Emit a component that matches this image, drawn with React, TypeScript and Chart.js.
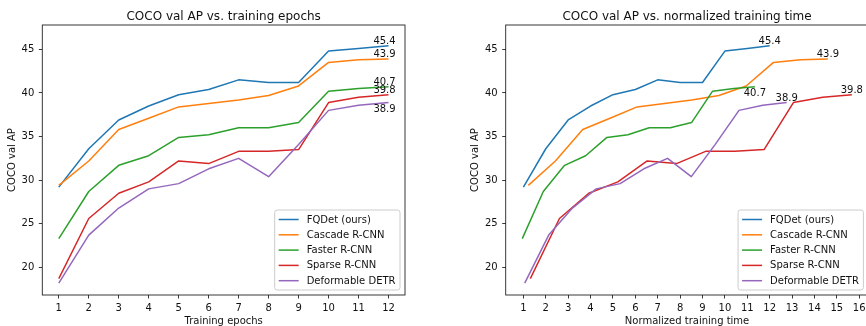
import React, { useEffect, useRef } from 'react';
import { Chart, registerables } from 'chart.js';

Chart.register(...registerables);

// ---------------- data ----------------
const SERIES_NAMES = ['FQDet (ours)', 'Cascade R-CNN', 'Faster R-CNN', 'Sparse R-CNN', 'Deformable DETR'];
const COLORS = ['#1f77b4', '#ff7f0e', '#2ca02c', '#d62728', '#9467bd'];

const EPOCHS = [1, 2, 3, 4, 5, 6, 7, 8, 9, 10, 11, 12];

const FQDET_AP = [29.2, 33.6, 36.9, 38.5, 39.8, 40.4, 41.5, 41.2, 41.2, 44.8, 45.1, 45.4];
const CASCADE_AP = [29.4, 32.2, 35.8, 37.1, 38.4, 38.8, 39.2, 39.7, 40.8, 43.5, 43.8, 43.9];
const FASTER_AP = [23.3, 28.7, 31.7, 32.8, 34.9, 35.2, 36.0, 36.0, 36.6, 40.2, 40.5, 40.7];
const SPARSE_AP = [18.7, 25.6, 28.5, 29.8, 32.2, 31.9, 33.3, 33.3, 33.5, 38.9, 39.5, 39.8];
const DDETR_AP = [18.2, 23.7, 26.8, 29.0, 29.6, 31.3, 32.5, 30.4, 34.1, 38.0, 38.6, 38.9];

// normalized training time (x positions in the right panel)
const FQDET_TIME = [1, 2, 3, 4, 5, 6, 7, 8, 9, 10, 11, 12];
const CASCADE_TIME = [1.22, 2.43, 3.65, 4.87, 6.08, 7.3, 8.52, 9.73, 10.95, 12.17, 13.38, 14.6];
const FASTER_TIME = [0.95, 1.89, 2.84, 3.78, 4.73, 5.67, 6.62, 7.56, 8.51, 9.45, 10.4, 11.34];
const SPARSE_TIME = [1.31, 2.61, 3.92, 5.22, 6.53, 7.84, 9.14, 10.45, 11.75, 13.06, 14.37, 15.67];
const DDETR_TIME = [1.06, 2.13, 3.19, 4.25, 5.32, 6.38, 7.44, 8.5, 9.57, 10.63, 11.69, 12.76];

const AP_SERIES = [FQDET_AP, CASCADE_AP, FASTER_AP, SPARSE_AP, DDETR_AP];
const EPOCH_SERIES = [EPOCHS, EPOCHS, EPOCHS, EPOCHS, EPOCHS];
const TIME_SERIES = [FQDET_TIME, CASCADE_TIME, FASTER_TIME, SPARSE_TIME, DDETR_TIME];

const Y_TICKS = [20, 25, 30, 35, 40, 45];
const EPOCH_TICKS = [1, 2, 3, 4, 5, 6, 7, 8, 9, 10, 11, 12];
const TIME_TICKS = [1, 2, 3, 4, 5, 6, 7, 8, 9, 10, 11, 12, 13, 14, 15, 16];

// where the final-value label sits relative to the line end
const EPOCH_LABEL_PLACE = ['above', 'above', 'above', 'above', 'below'];
const TIME_LABEL_PLACE = ['above', 'above', 'below', 'above', 'above'];

// ---------------- styling ----------------
const FAMILY = '"DejaVu Sans", "Liberation Sans", sans-serif';
const TEXT = '#111';
const Y_MIN = 16.83;
const Y_MAX = 47.79;

type Spec = {
  title: string;
  xLabel: string;
  xs: number[][];
  xMin: number;
  xMax: number;
  xTicks: number[];
  place: string[];
  annotDx: number;
  yAxisWidth: number;
  padRight: number;
  width: number;
};

const decorPlugin = {
  id: 'decor',
  afterDraw(chart: any, _args: any, opts: any) {
    const { ctx, chartArea: a } = chart;
    ctx.save();

    // frame
    ctx.strokeStyle = '#222';
    ctx.lineWidth = 0.9;
    ctx.strokeRect(a.left, a.top, a.right - a.left, a.bottom - a.top);

    // final value labels
    ctx.font = `10px ${FAMILY}`;
    ctx.fillStyle = TEXT;
    ctx.textAlign = 'center';
    ctx.textBaseline = 'alphabetic';
    chart.data.datasets.forEach((ds: any, i: number) => {
      const last = ds.data[ds.data.length - 1];
      const px = chart.scales.x.getPixelForValue(last.x) + opts.annotDx;
      const py = chart.scales.y.getPixelForValue(last.y);
      const txt = last.y.toFixed(1);
      const y = opts.place[i] === 'below' ? py + 9.5 : py - 2;
      ctx.fillText(txt, px, y);
    });

    // legend
    ctx.font = `10px ${FAMILY}`;
    const labels = chart.data.datasets.map((d: any) => d.label);
    const textW = Math.max(...labels.map((l: string) => ctx.measureText(l).width));
    const rowH = 15.3;
    const boxW = 4 + 20 + 8 + textW + 4.5;
    const boxH = 80;
    const bx = a.right - 5 - boxW;
    const by = a.bottom - 5 - boxH;
    ctx.beginPath();
    (ctx as any).roundRect(bx, by, boxW, boxH, 2.5);
    ctx.fillStyle = 'rgba(255,255,255,0.8)';
    ctx.fill();
    ctx.strokeStyle = '#cccccc';
    ctx.lineWidth = 1;
    ctx.stroke();
    ctx.textAlign = 'left';
    ctx.textBaseline = 'middle';
    chart.data.datasets.forEach((ds: any, i: number) => {
      const y = by + 9.5 + i * rowH;
      ctx.strokeStyle = ds.borderColor;
      ctx.lineWidth = 1.5;
      ctx.beginPath();
      ctx.moveTo(bx + 4, y);
      ctx.lineTo(bx + 24, y);
      ctx.stroke();
      ctx.fillStyle = TEXT;
      ctx.fillText(ds.label, bx + 32, y + 0.5);
    });

    // title
    const cx = (a.left + a.right) / 2;
    ctx.fillStyle = TEXT;
    ctx.textAlign = 'center';
    ctx.textBaseline = 'alphabetic';
    ctx.font = `12px ${FAMILY}`;
    ctx.fillText(opts.title, cx, a.top - 5);

    // x label
    ctx.font = `10px ${FAMILY}`;
    ctx.fillText(opts.xLabel, cx, a.bottom + 28.5);

    // y label
    ctx.translate(a.left - 30, (a.top + a.bottom) / 2);
    ctx.rotate(-Math.PI / 2);
    ctx.textBaseline = 'middle';
    ctx.fillText('COCO val AP', 0, 0);

    ctx.restore();
  },
};

function buildConfig(spec: Spec): any {
  const datasets = SERIES_NAMES.map((name, i) => ({
    label: name,
    data: spec.xs[i].map((x, j) => ({ x, y: AP_SERIES[i][j] })),
    borderColor: COLORS[i],
    backgroundColor: COLORS[i],
    borderWidth: 1.5,
    pointRadius: 0,
    tension: 0,
    fill: false,
    borderJoinStyle: 'round',
    order: SERIES_NAMES.length - i,
  }));
  const tickFont = { family: FAMILY, size: 10 };
  return {
    type: 'line',
    data: { datasets },
    plugins: [decorPlugin],
    options: {
      animation: false,
      responsive: false,
      devicePixelRatio: 1,
      layout: { padding: { left: 0, top: 25, right: spec.padRight, bottom: 0 } },
      plugins: {
        legend: { display: false },
        title: { display: false },
        tooltip: { enabled: false },
        decor: {
          title: spec.title,
          xLabel: spec.xLabel,
          place: spec.place,
          annotDx: spec.annotDx,
        },
      },
      scales: {
        x: {
          type: 'linear',
          min: spec.xMin,
          max: spec.xMax,
          afterBuildTicks: (s: any) => {
            s.ticks = spec.xTicks.map((v) => ({ value: v }));
          },
          afterFit: (s: any) => {
            s.height = 31;
          },
          grid: { drawOnChartArea: false, drawTicks: true, tickLength: 3.5, color: '#222', lineWidth: 0.9 },
          border: { display: false },
          ticks: {
            font: tickFont,
            color: TEXT,
            padding: 3.5,
            maxRotation: 0,
            autoSkip: false,
            callback: (v: any) => String(v),
          },
        },
        y: {
          type: 'linear',
          min: Y_MIN,
          max: Y_MAX,
          afterBuildTicks: (s: any) => {
            s.ticks = Y_TICKS.map((v) => ({ value: v }));
          },
          afterFit: (s: any) => {
            s.width = spec.yAxisWidth;
          },
          grid: { drawOnChartArea: false, drawTicks: true, tickLength: 3.5, color: '#222', lineWidth: 0.9 },
          border: { display: false },
          ticks: {
            font: tickFont,
            color: TEXT,
            padding: 4.5,
            autoSkip: false,
            callback: (v: any) => String(v),
          },
        },
      },
    },
  };
}

const LEFT_SPEC: Spec = {
  title: 'COCO val AP vs. training epochs',
  xLabel: 'Training epochs',
  xs: EPOCH_SERIES,
  xMin: 0.45,
  xMax: 12.55,
  xTicks: EPOCH_TICKS,
  place: EPOCH_LABEL_PLACE,
  annotDx: -4,
  yAxisWidth: 42.3,
  padRight: 28,
  width: 433,
};

const RIGHT_SPEC: Spec = {
  title: 'COCO val AP vs. normalized training time',
  xLabel: 'Normalized training time',
  xs: TIME_SERIES,
  xMin: 0.21,
  xMax: 16.41,
  xTicks: TIME_TICKS,
  place: TIME_LABEL_PLACE,
  annotDx: 0,
  yAxisWidth: 72.7,
  padRight: 4.6,
  width: 440,
};

function Panel({ spec, left }: { spec: Spec; left: number }) {
  const ref = useRef<HTMLCanvasElement>(null);
  useEffect(() => {
    if (!ref.current) return;
    const chart = new Chart(ref.current, buildConfig(spec));
    return () => chart.destroy();
  }, [spec]);
  return (
    <canvas
      ref={ref}
      width={spec.width}
      height={326}
      style={{ position: 'absolute', left, top: 0, width: spec.width, height: 326, display: 'block' }}
    />
  );
}

export default function App() {
  return (
    <div
      style={{
        position: 'fixed',
        left: 0,
        top: 0,
        width: 866,
        height: 326,
        overflow: 'hidden',
        background: '#fff',
      }}
    >
      <Panel spec={LEFT_SPEC} left={0} />
      <Panel spec={RIGHT_SPEC} left={433} />
    </div>
  );
}
